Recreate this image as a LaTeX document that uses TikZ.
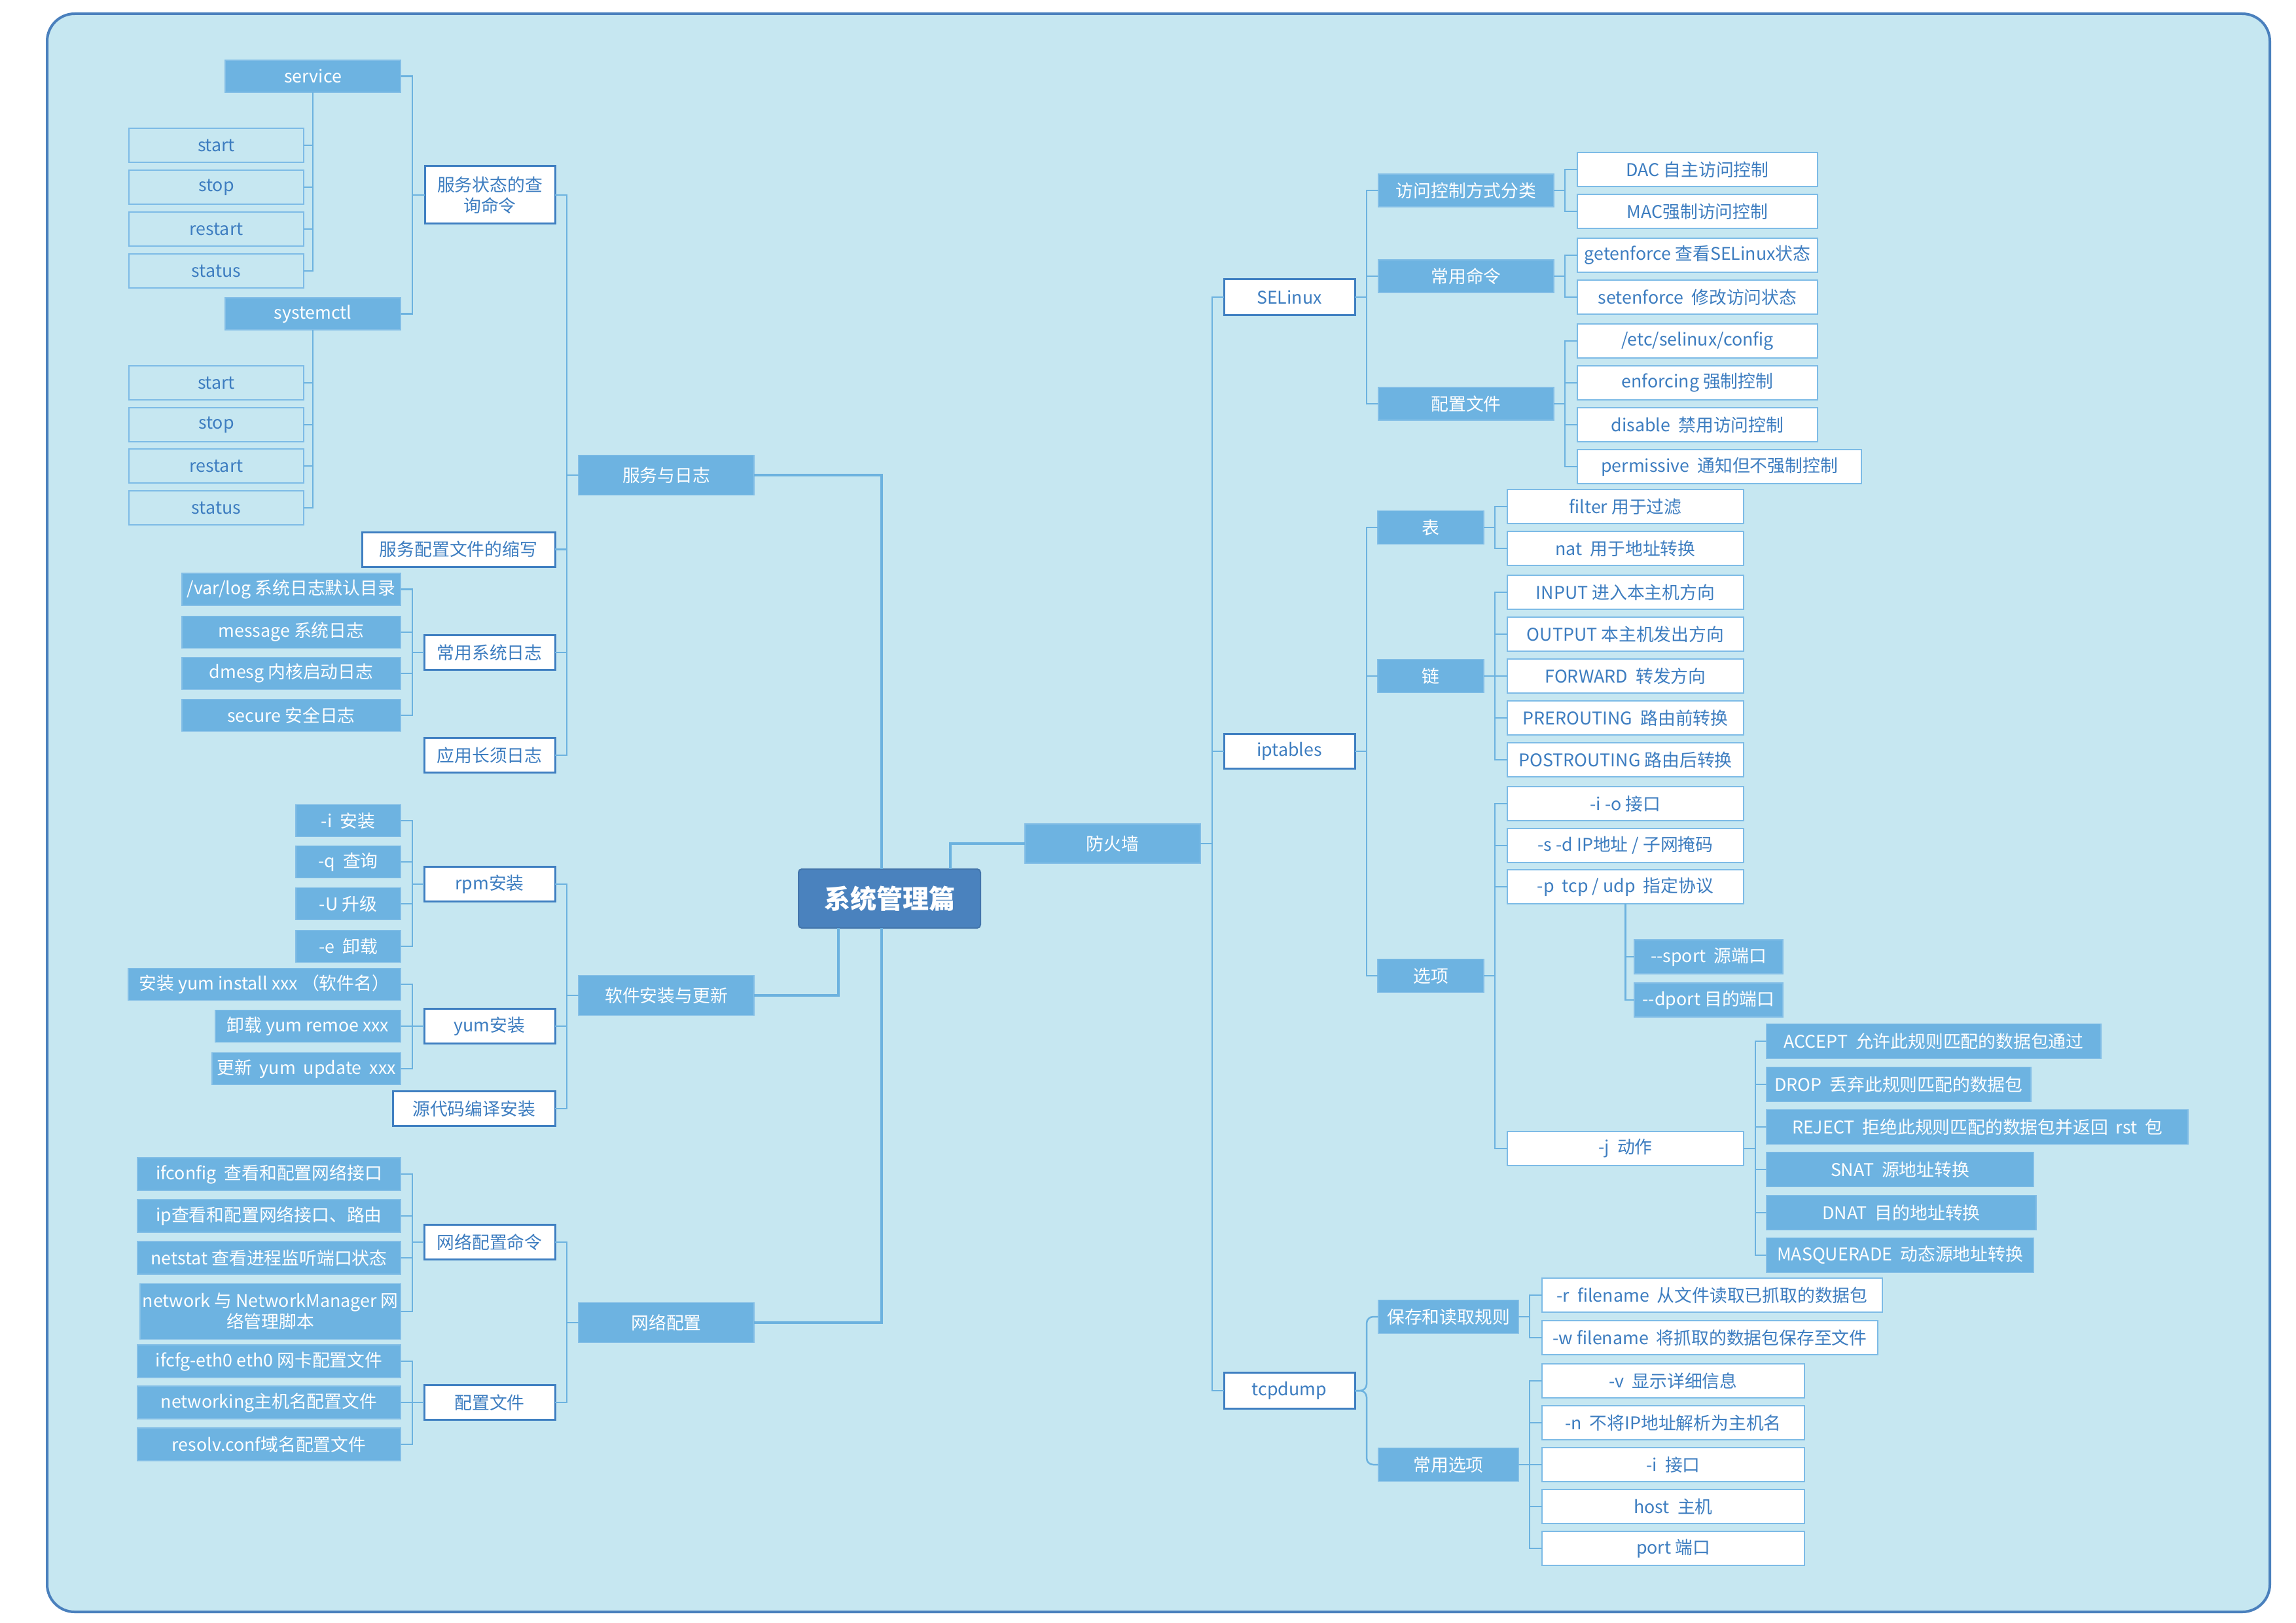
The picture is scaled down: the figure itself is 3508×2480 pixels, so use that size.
\documentclass[tikz,border=0pt]{standalone}
\usepackage{fontspec}
\setmainfont{Noto Sans CJK SC}
\definecolor{bgC}{HTML}{C6E7F1}
\definecolor{frameC}{HTML}{4A80BD}
\definecolor{boxC}{HTML}{6DB3E1}
\definecolor{rootC}{HTML}{4A82BE}
\definecolor{darkB}{HTML}{3F7FC1}
\definecolor{lightB}{HTML}{7DBBE6}
\definecolor{txtC}{HTML}{3D7DC0}
\definecolor{lineC}{HTML}{6CB2DF}
\begin{document}
\begin{tikzpicture}[x=1pt,y=-1pt,
  every node/.style={inner sep=0pt, outer sep=0pt, align=center, font=\fontsize{26.8}{32}\selectfont},
  solidbox/.style={rectangle, fill=boxC, draw=boxC!85!white, line width=1.5, text=white},
  whitebox/.style={rectangle, fill=white, draw=darkB, line width=3, text=txtC},
  leafbox/.style={rectangle, fill=white, draw=lightB, line width=2.5, text=txtC},
  clearbox/.style={rectangle, draw=lightB, line width=2.5, text=txtC},
  rootbox/.style={rectangle, rounded corners=5, fill=rootC, draw=rootC!90!black, line width=2, text=white, font=\fontsize{40}{46}\selectfont\bfseries},
  conn/.style={draw=lineC, line width=2.5},
  mainconn/.style={draw=lineC, line width=3.5}
]
\useasboundingbox (0,0) rectangle (3508,2480);
\draw[fill=bgC, draw=frameC, line width=4, rounded corners=42] (72,21) rectangle (3468,2463);

% ---------- root ----------
\node[rootbox, minimum width=278, minimum height=90] (root) at (1359,1373) {系统管理篇};

% ---------- level 1 ----------
\node[solidbox, minimum width=268, minimum height=61] (svc) at (1018,726) {服务与日志};
\node[solidbox, minimum width=268, minimum height=61] (soft) at (1018,1521) {软件安装与更新};
\node[solidbox, minimum width=268, minimum height=61] (net) at (1018,2021) {网络配置};
\node[solidbox, minimum width=268, minimum height=60] (fw) at (1700,1289) {防火墙};

% ---------- 服务与日志 ----------
\node[whitebox, minimum width=199, minimum height=88] (qry) at (748.5,298) {服务状态的查\\询命令};
\node[whitebox, minimum width=295, minimum height=53] (abbr) at (700.5,839.5) {服务配置文件的缩写};
\node[whitebox, minimum width=200, minimum height=53] (logs) at (748,997) {常用系统日志};
\node[whitebox, minimum width=200, minimum height=53] (applog) at (748,1154) {应用长须日志};

\node[solidbox, minimum width=268, minimum height=49] (service) at (478,116.5) {service};
\node[clearbox, minimum width=267, minimum height=52] (s1) at (330.5,222) {start};
\node[clearbox, minimum width=267, minimum height=52] (s2) at (330.5,286) {stop};
\node[clearbox, minimum width=267, minimum height=52] (s3) at (330.5,350) {restart};
\node[clearbox, minimum width=267, minimum height=52] (s4) at (330.5,414) {status};
\node[solidbox, minimum width=268, minimum height=49] (sysctl) at (478,479.5) {systemctl};
\node[clearbox, minimum width=267, minimum height=52] (t1) at (330.5,585) {start};
\node[clearbox, minimum width=267, minimum height=52] (t2) at (330.5,649) {stop};
\node[clearbox, minimum width=267, minimum height=52] (t3) at (330.5,712) {restart};
\node[clearbox, minimum width=267, minimum height=52] (t4) at (330.5,776) {status};

\node[solidbox, minimum width=334, minimum height=49] (l1) at (445,900.5) {/var/log 系统日志默认目录};
\node[solidbox, minimum width=334, minimum height=49] (l2) at (445,966) {message 系统日志};
\node[solidbox, minimum width=334, minimum height=49] (l3) at (445,1029) {dmesg 内核启动日志};
\node[solidbox, minimum width=334, minimum height=49] (l4) at (445,1093) {secure 安全日志};

% ---------- 软件安装与更新 ----------
\node[whitebox, minimum width=200, minimum height=53] (rpm) at (748,1351) {rpm安装};
\node[whitebox, minimum width=200, minimum height=53] (yum) at (748,1568) {yum安装};
\node[whitebox, minimum width=248, minimum height=53] (src) at (724,1694) {源代码编译安装};
\node[solidbox, minimum width=160, minimum height=49] (r1) at (532,1254) {-i\ \ 安装};
\node[solidbox, minimum width=160, minimum height=49] (r2) at (532,1317) {-q\ \ 查询};
\node[solidbox, minimum width=160, minimum height=49] (r3) at (532,1381) {-U 升级};
\node[solidbox, minimum width=160, minimum height=49] (r4) at (532,1446) {-e\ \ 卸载};
\node[solidbox, minimum width=416, minimum height=49] (y1) at (404,1504) {安装 yum install xxx （软件名）};
\node[solidbox, minimum width=283, minimum height=49] (y2) at (470.5,1568) {卸载 yum remoe xxx};
\node[solidbox, minimum width=288, minimum height=49] (y3) at (468,1633) {更新\ \ yum\ \ update\ \ xxx};

% ---------- 网络配置 ----------
\node[whitebox, minimum width=200, minimum height=53] (ncmd) at (748,1898) {网络配置命令};
\node[whitebox, minimum width=200, minimum height=53] (ncfg) at (748,2143) {配置文件};
\node[solidbox, minimum width=402, minimum height=50] (n1) at (411,1794) {ifconfig\ \ 查看和配置网络接口};
\node[solidbox, minimum width=402, minimum height=50] (n2) at (411,1858) {ip查看和配置网络接口、路由};
\node[solidbox, minimum width=402, minimum height=50] (n3) at (411,1922) {netstat 查看进程监听端口状态};
\node[solidbox, minimum width=398, minimum height=85] (n4) at (413,2004) {network 与 NetworkManager 网\\络管理脚本};
\node[solidbox, minimum width=402, minimum height=50] (c1) at (411,2080) {ifcfg-eth0 eth0 网卡配置文件};
\node[solidbox, minimum width=402, minimum height=50] (c2) at (411,2143) {networking主机名配置文件};
\node[solidbox, minimum width=402, minimum height=50] (c3) at (411,2207) {resolv.conf域名配置文件};

% ---------- 防火墙 ----------
\node[whitebox, minimum width=200, minimum height=55] (sel) at (1970,454) {SELinux};
\node[whitebox, minimum width=200, minimum height=53] (ipt) at (1970,1148) {iptables};
\node[whitebox, minimum width=200, minimum height=55] (tcp) at (1970,2125) {tcpdump};

\node[solidbox, minimum width=268, minimum height=50] (acc) at (2240,291) {访问控制方式分类};
\node[solidbox, minimum width=268, minimum height=50] (cmd) at (2240,422) {常用命令};
\node[solidbox, minimum width=268, minimum height=50] (scfg) at (2240,617) {配置文件};
\node[leafbox, minimum width=367, minimum height=52] (e1) at (2593.5,259) {DAC 自主访问控制};
\node[leafbox, minimum width=367, minimum height=52] (e2) at (2593.5,323) {MAC强制访问控制};
\node[leafbox, minimum width=367, minimum height=52] (e3) at (2593.5,390) {getenforce 查看SELinux状态};
\node[leafbox, minimum width=367, minimum height=52] (e4) at (2593.5,454) {setenforce\ \ 修改访问状态};
\node[leafbox, minimum width=367, minimum height=52] (e5) at (2593.5,521) {/etc/selinux/config};
\node[leafbox, minimum width=367, minimum height=52] (e6) at (2593.5,585) {enforcing 强制控制};
\node[leafbox, minimum width=367, minimum height=52] (e7) at (2593.5,649) {disable\ \ 禁用访问控制};
\node[leafbox, minimum width=434, minimum height=52] (e8) at (2627,713) {permissive\ \ 通知但不强制控制};

\node[solidbox, minimum width=162, minimum height=51] (tbl) at (2186,806) {表};
\node[solidbox, minimum width=162, minimum height=51] (chn) at (2186,1033) {链};
\node[solidbox, minimum width=162, minimum height=51] (opt) at (2186,1491) {选项};
\node[leafbox, minimum width=361, minimum height=52] (f1) at (2483.5,774) {filter 用于过滤};
\node[leafbox, minimum width=361, minimum height=52] (f2) at (2483.5,838) {nat\ \ 用于地址转换};
\node[leafbox, minimum width=361, minimum height=52] (h1) at (2483.5,905) {INPUT 进入本主机方向};
\node[leafbox, minimum width=361, minimum height=52] (h2) at (2483.5,969) {OUTPUT 本主机发出方向};
\node[leafbox, minimum width=361, minimum height=52] (h3) at (2483.5,1033) {FORWARD\ \ 转发方向};
\node[leafbox, minimum width=361, minimum height=52] (h4) at (2483.5,1097) {PREROUTING\ \ 路由前转换};
\node[leafbox, minimum width=361, minimum height=52] (h5) at (2483.5,1161) {POSTROUTING 路由后转换};
\node[leafbox, minimum width=361, minimum height=52] (o1) at (2483.5,1228) {-i -o 接口};
\node[leafbox, minimum width=361, minimum height=52] (o2) at (2483.5,1292) {-s -d IP地址 / 子网掩码};
\node[leafbox, minimum width=361, minimum height=52] (o3) at (2483.5,1355) {-p\ \ tcp / udp\ \ 指定协议};
\node[leafbox, minimum width=361, minimum height=52] (o4) at (2483.5,1755) {-j\ \ 动作};
\node[solidbox, minimum width=227, minimum height=52] (p1) at (2610.5,1462) {-{}-sport\ \ 源端口};
\node[solidbox, minimum width=227, minimum height=52] (p2) at (2610.5,1528) {-{}-dport 目的端口};
\node[solidbox, minimum width=511, minimum height=53] (j1) at (2954.5,1591) {ACCEPT\ \ 允许此规则匹配的数据包通过};
\node[solidbox, minimum width=404, minimum height=53] (j2) at (2901,1657) {DROP\ \ 丢弃此规则匹配的数据包};
\node[solidbox, minimum width=644, minimum height=53] (j3) at (3021,1722) {REJECT\ \ 拒绝此规则匹配的数据包并返回\ \ rst\ \ 包};
\node[solidbox, minimum width=408, minimum height=53] (j4) at (2903,1787) {SNAT\ \ 源地址转换};
\node[solidbox, minimum width=412, minimum height=53] (j5) at (2905,1853) {DNAT\ \ 目的地址转换};
\node[solidbox, minimum width=408, minimum height=53] (j6) at (2903,1918) {MASQUERADE\ \ 动态源地址转换};

\node[solidbox, minimum width=214, minimum height=51] (save) at (2213,2012) {保存和读取规则};
\node[solidbox, minimum width=214, minimum height=51] (copt) at (2213,2238) {常用选项};
\node[leafbox, minimum width=520, minimum height=52] (d1) at (2616,1979) {-r\ \ filename\ \ 从文件读取已抓取的数据包};
\node[leafbox, minimum width=513, minimum height=52] (d2) at (2612.5,2044) {-w filename\ \ 将抓取的数据包保存至文件};
\node[leafbox, minimum width=401, minimum height=52] (d3) at (2556.5,2110) {-v\ \ 显示详细信息};
\node[leafbox, minimum width=401, minimum height=52] (d4) at (2556.5,2174) {-n\ \ 不将IP地址解析为主机名};
\node[leafbox, minimum width=401, minimum height=52] (d5) at (2556.5,2238) {-i\ \ 接口};
\node[leafbox, minimum width=401, minimum height=52] (d6) at (2556.5,2302) {host\ \ 主机};
\node[leafbox, minimum width=401, minimum height=52] (d7) at (2556.5,2366) {port 端口};

% ---------- connectors ----------
% root
\draw[mainconn] ([xshift=-12]root.north) |- (svc.east);
\draw[mainconn] ([xshift=-12]root.south) |- (net.east);
\draw[mainconn] ([xshift=-78]root.south) |- (soft.east);
\draw[mainconn] ([xshift=93]root.north) |- (fw.west);

% left level 1 -> level 2
\foreach \c in {qry,abbr,logs,applog} \draw[conn] (svc.west) -- ++(-18,0) |- (\c.east);
\foreach \c in {rpm,yum,src} \draw[conn] (soft.west) -- ++(-18,0) |- (\c.east);
\foreach \c in {ncmd,ncfg} \draw[conn] (net.west) -- ++(-18,0) |- (\c.east);

% left level 2 -> level 3
\foreach \c in {service,sysctl} \draw[conn] (qry.west) -- ++(-19,0) |- (\c.east);
\foreach \c in {l1,l2,l3,l4} \draw[conn] (logs.west) -- ++(-18,0) |- (\c.east);
\foreach \c in {r1,r2,r3,r4} \draw[conn] (rpm.west) -- ++(-18,0) |- (\c.east);
\foreach \c in {y1,y2,y3} \draw[conn] (yum.west) -- ++(-18,0) |- (\c.east);
\foreach \c in {n1,n2,n3,n4} \draw[conn] (ncmd.west) -- ++(-18,0) |- (\c.east);
\foreach \c in {c1,c2,c3} \draw[conn] (ncfg.west) -- ++(-18,0) |- (\c.east);
\foreach \c in {s1,s2,s3,s4} \draw[conn] (service.south) |- (\c.east);
\foreach \c in {t1,t2,t3,t4} \draw[conn] (sysctl.south) |- (\c.east);

% right
\foreach \c in {sel,ipt,tcp} \draw[conn] (fw.east) -- ++(18,0) |- (\c.west);
\foreach \c in {acc,cmd,scfg} \draw[conn] (sel.east) -- ++(18,0) |- (\c.west);
\foreach \c in {e1,e2} \draw[conn] (acc.east) -- ++(17,0) |- (\c.west);
\foreach \c in {e3,e4} \draw[conn] (cmd.east) -- ++(17,0) |- (\c.west);
\foreach \c in {e5,e6,e7,e8} \draw[conn] (scfg.east) -- ++(17,0) |- (\c.west);
\foreach \c in {tbl,chn,opt} \draw[conn] (ipt.east) -- ++(18,0) |- (\c.west);
\foreach \c in {f1,f2} \draw[conn] (tbl.east) -- ++(17,0) |- (\c.west);
\foreach \c in {h1,h2,h3,h4,h5} \draw[conn] (chn.east) -- ++(17,0) |- (\c.west);
\foreach \c in {o1,o2,o3,o4} \draw[conn] (opt.east) -- ++(17,0) |- (\c.west);
\foreach \c in {p1,p2} \draw[conn] (o3.south) |- (\c.west);
\foreach \c in {j1,j2,j3,j4,j5,j6} \draw[conn] (o4.east) -- ++(18,0) |- (\c.west);
\foreach \c in {save,copt} \draw[conn, rounded corners=10] (tcp.east) -- ++(18,0) |- (\c.west);
\foreach \c in {d1,d2} \draw[conn] (save.east) -- ++(17,0) |- (\c.west);
\foreach \c in {d3,d4,d5,d6,d7} \draw[conn] (copt.east) -- ++(17,0) |- (\c.west);
\end{tikzpicture}
\end{document}
